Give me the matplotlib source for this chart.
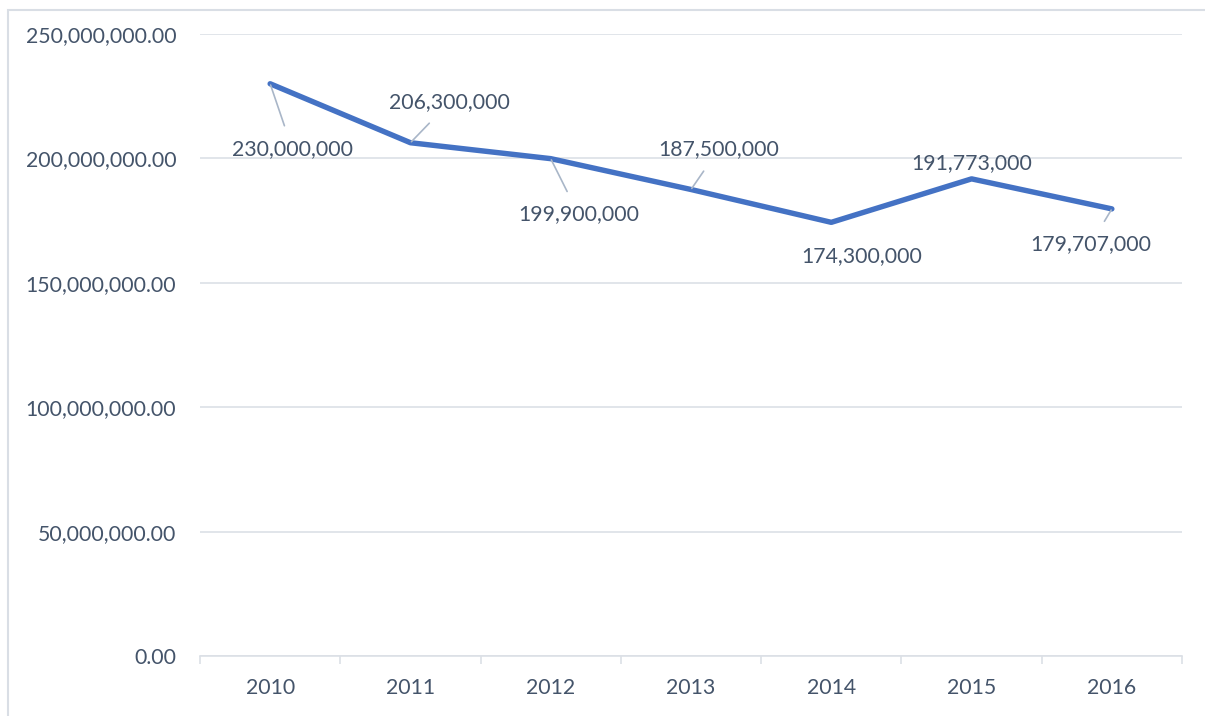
import matplotlib.pyplot as plt
from matplotlib.patches import Rectangle

plt.rcParams['font.family'] = ['Lato', 'DejaVu Sans']

years = ['2010', '2011', '2012', '2013', '2014', '2015', '2016']
values = [230000000, 206300000, 199900000, 187500000, 174300000, 191773000, 179707000]
# label offsets in points (dx, dy) and whether a leader line is drawn
label_offsets = [(16, -47), (28, 29), (20, -40), (20, 29), (22, -24), (0, 11), (-15, -25)]
leaders = [True, True, True, True, False, False, True]

txt_color = '#44546A'
grid_color = '#DCE0E6'

fig = plt.figure(figsize=(12.05, 7.16), dpi=100)
fig.patches.append(Rectangle((8 / 1205, -0.1), 1.2, (716 - 10) / 716 + 0.1,
                             transform=fig.transFigure, fill=False,
                             edgecolor='#D9DEE5', linewidth=1.5))
ax = fig.add_axes([200 / 1205, 60 / 716, 982 / 1205, 622 / 716])

x = list(range(len(years)))
ax.plot(x, values, color='#4472C4', linewidth=3.9, solid_capstyle='round',
        solid_joinstyle='round', zorder=3)

for i, v in enumerate(values):
    dx, dy = label_offsets[i]
    props = None
    if leaders[i]:
        props = dict(arrowstyle='-', color='#A9B6C8', linewidth=1.2,
                     shrinkA=8, shrinkB=1)
    ax.annotate(f'{v:,}', xy=(i, v), xytext=(dx, dy), textcoords='offset points',
                ha='center', va='center', fontsize=15.3, color=txt_color,
                arrowprops=props, zorder=4)

ax.set_xlim(-0.5, 6.5)
ax.set_ylim(0, 250000000)
ax.set_yticks(range(0, 250000001, 50000000))
ax.yaxis.set_major_formatter(lambda v, p: f'{v:,.2f}')
ax.grid(axis='y', color=grid_color, linewidth=1.2)
ax.set_axisbelow(True)
for s in ['top', 'right', 'left']:
    ax.spines[s].set_visible(False)
ax.spines['bottom'].set_color(grid_color)
ax.spines['bottom'].set_linewidth(1.2)

ax.set_xticks([i - 0.5 for i in range(len(years) + 1)])
ax.set_xticklabels([])
ax.set_xticks(x, minor=True)
ax.set_xticklabels(years, minor=True)
ax.tick_params(axis='x', which='major', length=6, width=1.2, color=grid_color)
ax.tick_params(axis='x', which='minor', length=0, pad=16, labelsize=15.3, labelcolor=txt_color)
ax.tick_params(axis='y', length=0, pad=17, labelsize=15.3, labelcolor=txt_color)

fig.savefig('out.png', dpi=100)
